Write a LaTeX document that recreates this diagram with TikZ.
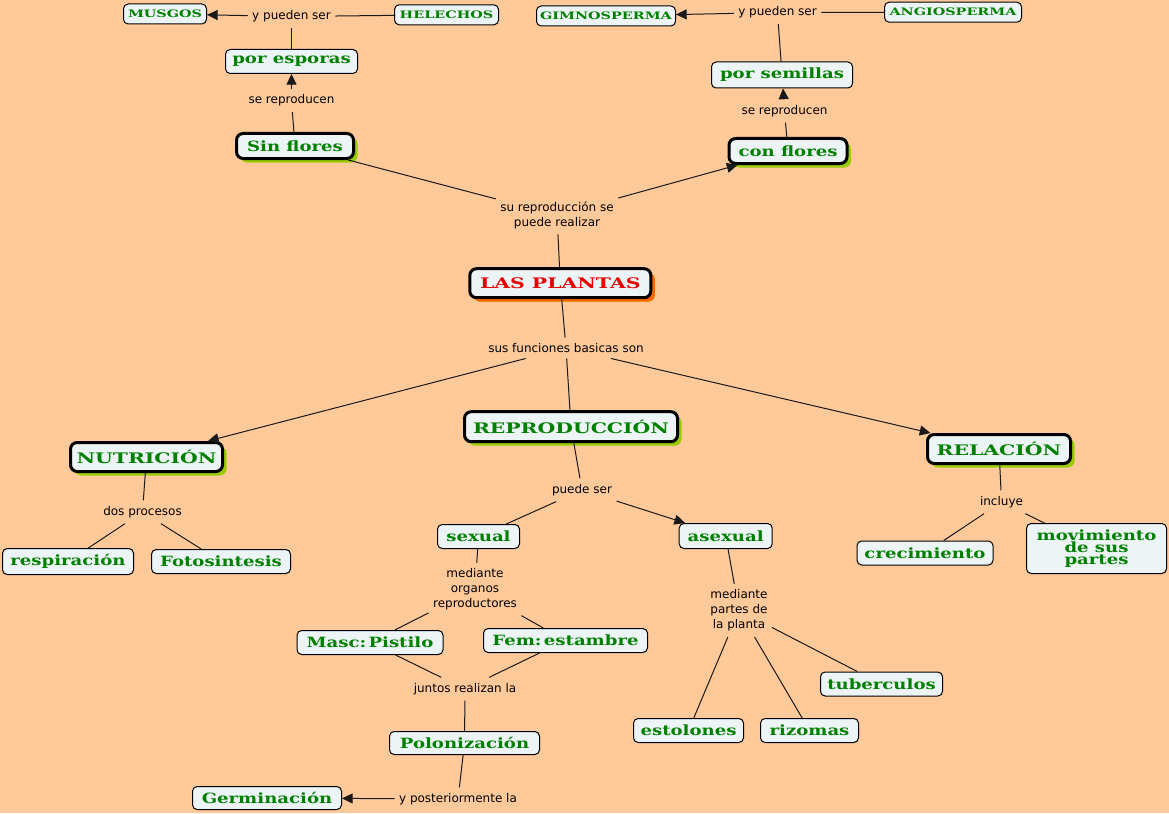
\documentclass[tikz,border=0pt]{standalone}
\usepackage{fontspec}
\usepackage{tikz}
\usetikzlibrary{arrows.meta,shadows}
\newfontfamily\lfont{DejaVu Sans}
\newfontfamily\cfont[FakeStretch=1.28]{DejaVu Serif}
\newfontfamily\kfont[FakeStretch=1.4]{DejaVu Serif}
\definecolor{bgpeach}{RGB}{255,201,153}
\definecolor{boxfill}{RGB}{236,244,245}
\definecolor{cgreen}{RGB}{0,128,0}
\definecolor{cred}{RGB}{230,0,0}
\definecolor{shgreen}{RGB}{153,204,0}
\definecolor{shorange}{RGB}{255,102,0}
\tikzset{every picture/.style={line width=0.75pt},
  concept/.style={draw=black,fill=boxfill,rounded corners=3.5pt,text=cgreen,inner sep=0pt,align=center,
    font=\cfont\bfseries\fontsize{10.6}{9}\selectfont},
  smallconcept/.style={concept,font=\kfont\bfseries\fontsize{7.7}{9}\selectfont},
  topic/.style={concept,line width=2.25pt,rounded corners=5pt,
    drop shadow={shadow xshift=3pt,shadow yshift=-3pt,fill=shgreen,opacity=1}},
  capstopic/.style={topic,font=\kfont\bfseries\fontsize{10.9}{12}\selectfont},
  linkphrase/.style={text=black,inner xsep=3pt,inner ysep=4pt,align=center,
    font=\lfont\fontsize{9}{11.2}\selectfont},
  link/.style={draw=black!90,line width=0.75pt},
  arrowlink/.style={link,-{Triangle[length=8pt,width=7.5pt]}}
}
\begin{document}
\begin{tikzpicture}[x=0.75pt,y=0.75pt,yscale=-1,xscale=1]
%background, sets diagram size 1169 x 813
\fill [bgpeach,use as bounding box] (0,0) rectangle (1169,813);

% Text Node
\draw (165,14) node [smallconcept,minimum width=62.25pt,minimum height=15pt] (musgos) {MUSGOS};
% Text Node
\draw (446.5,14.8) node [smallconcept,minimum width=78pt,minimum height=15pt] (helechos) {HELECHOS};
% Text Node
\draw (606,16) node [smallconcept,minimum width=104.25pt,minimum height=15pt] (gimno) {GIMNOSPERMA};
% Text Node
\draw (953,12.2) node [smallconcept,minimum width=102.75pt,minimum height=15pt] (angio) {ANGIOSPERMA};
% Text Node
\draw (291.5,61.5) node [concept,minimum width=99pt,minimum height=18pt] (esporas) {por esporas};
% Text Node
\draw (782,75) node [concept,minimum width=105.75pt,minimum height=19.5pt] (semillas) {por semillas};
% Text Node
\draw (295,146) node [topic,minimum width=87.75pt,minimum height=18.75pt] (sinflores) {Sin flores};
% Text Node
\draw (788,151) node [topic,minimum width=88.5pt,minimum height=18.75pt] (conflores) {con flores};
% Text Node
\draw (560.3,283.2) node [capstopic,text=cred,minimum width=135.75pt,minimum height=21.75pt,
  drop shadow={shadow xshift=3pt,shadow yshift=-3pt,fill=shorange,opacity=1}] (plantas) {LAS PLANTAS};
% Text Node
\draw (146.5,457) node [capstopic,minimum width=114pt,minimum height=21.75pt] (nutricion) {NUTRICIÓN};
% Text Node
\draw (571,426.7) node [capstopic,minimum width=159.75pt,minimum height=22.5pt] (reproduccion) {REPRODUCCIÓN};
% Text Node
\draw (999,449) node [capstopic,minimum width=107.25pt,minimum height=21.75pt] (relacion) {RELACIÓN};
% Text Node
\draw (68,561.5) node [concept,minimum width=98.25pt,minimum height=19.5pt] (respiracion) {respiración};
% Text Node
\draw (221,561.5) node [concept,minimum width=104.25pt,minimum height=18pt] (fotosintesis) {Fotosintesis};
% Text Node
\draw (478.5,536.5) node [concept,minimum width=61.5pt,minimum height=18pt] (sexual) {sexual};
% Text Node
\draw (725.7,536) node [concept,minimum width=69.75pt,minimum height=18.75pt] (asexual) {asexual};
% Text Node
\draw (370,642.5) node [concept,minimum width=109.5pt,minimum height=18pt] (masc) {Masc:\,Pistilo};
% Text Node
\draw (565.5,640.5) node [concept,minimum width=123pt,minimum height=18pt] (fem) {Fem:\,estambre};
% Text Node
\draw (464.5,743) node [concept,minimum width=112.5pt,minimum height=17.25pt] (polonizacion) {Polonización};
% Text Node
\draw (267,798) node [concept,minimum width=111.75pt,minimum height=17.25pt] (germinacion) {Germinación};
% Text Node
\draw (881.5,684) node [concept,minimum width=91.5pt,minimum height=18pt] (tuberculos) {tuberculos};
% Text Node
\draw (688.5,730.5) node [concept,minimum width=82.5pt,minimum height=18pt] (estolones) {estolones};
% Text Node
\draw (809.5,730.5) node [concept,minimum width=73.5pt,minimum height=18pt] (rizomas) {rizomas};
% Text Node
\draw (925,553) node [concept,minimum width=102pt,minimum height=18pt] (crecimiento) {crecimiento};
% Text Node
\draw (1096.5,548.5) node [concept,minimum width=105pt,minimum height=37.5pt] (movimiento) {movimiento\\de sus\\partes};

% Linking phrases
\draw (291.5,16.5) node [linkphrase] (psL) {y pueden ser};
\draw (291.5,100.5) node [linkphrase] (reprL) {se reproducen};
\draw (777.5,12.5) node [linkphrase] (psR) {y pueden ser};
\draw (784.5,111) node [linkphrase] (reprR) {se reproducen};
\draw (557,215) node [linkphrase] (sureprod) {su reproducción se\\puede realizar};
\draw (566,348) node [linkphrase] (funciones) {sus funciones basicas son};
\draw (142.5,512) node [linkphrase] (procesos) {dos procesos};
\draw (582,490) node [linkphrase] (puedeser) {puede ser};
\draw (475,589.5) node [linkphrase] (organos) {mediante\\organos\\reproductores};
\draw (465,689) node [linkphrase] (juntos) {juntos realizan la};
\draw (458,799) node [linkphrase] (posterior) {y posteriormente la};
\draw (739,610.5) node [linkphrase] (partes) {mediante\\partes de\\la planta};
\draw (1001.5,502) node [linkphrase] (incluye) {incluye};

%Straight Lines
\draw [link] (sinflores) -- (reprL);
\draw [arrowlink] (reprL) -- (esporas);
\draw [link] (esporas) -- (psL);
\draw [arrowlink] (psL) -- (musgos);
\draw [link] (psL) -- (helechos);
\draw [link] (conflores) -- (reprR);
\draw [arrowlink] (reprR) -- (semillas);
\draw [link] (semillas) -- (psR);
\draw [arrowlink] (psR) -- (gimno);
\draw [link] (psR) -- (angio);
\draw [link] (plantas) -- (sureprod);
\draw [link] (sureprod) -- (sinflores);
\draw [arrowlink] (sureprod) -- (conflores);
\draw [link] (plantas) -- (funciones);
\draw [arrowlink] (funciones) -- (nutricion);
\draw [link] (funciones) -- (reproduccion);
\draw [arrowlink] (funciones) -- (relacion);
\draw [link] (nutricion) -- (procesos);
\draw [link] (procesos) -- (respiracion);
\draw [link] (procesos) -- (fotosintesis);
\draw [link] (reproduccion) -- (puedeser);
\draw [link] (puedeser) -- (sexual);
\draw [arrowlink] (puedeser) -- (asexual);
\draw [link] (sexual) -- (organos);
\draw [link] (organos) -- (masc);
\draw [link] (organos) -- (fem);
\draw [link] (masc) -- (juntos);
\draw [link] (fem) -- (juntos);
\draw [link] (juntos) -- (polonizacion);
\draw [link] (polonizacion) -- (posterior);
\draw [arrowlink] (posterior) -- (germinacion);
\draw [link] (asexual) -- (partes);
\draw [link] (partes) -- (estolones);
\draw [link] (partes) -- (rizomas);
\draw [link] (partes) -- (tuberculos);
\draw [link] (relacion) -- (incluye);
\draw [link] (incluye) -- (crecimiento);
\draw [link] (incluye) -- (movimiento);

\end{tikzpicture}
\end{document}
